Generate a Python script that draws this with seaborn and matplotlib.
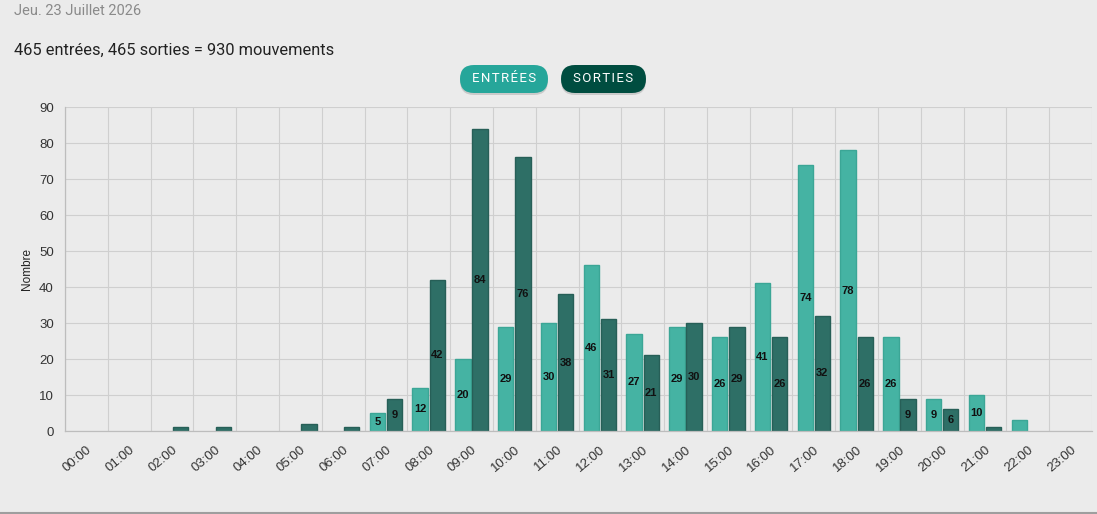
import pandas as pd
import matplotlib
matplotlib.use('Agg')
import matplotlib.pyplot as plt
import seaborn as sns
from matplotlib.patches import FancyBboxPatch
from matplotlib.transforms import IdentityTransform
from matplotlib.lines import Line2D

# Données : mouvements par heure
heures = ['%02d:00' % h for h in range(24)]
entrees = [0, 0, 0, 0, 0, 0, 0, 5, 12, 20, 29, 30, 46, 27, 29, 26, 41, 74, 78, 26, 9, 10, 3, 0]
sorties = [0, 0, 1, 1, 0, 2, 1, 9, 42, 84, 76, 38, 31, 21, 30, 29, 26, 32, 26, 9, 6, 1, 0, 0]
series = ['Entrées', 'Sorties']
couleurs = ['#45b3a3', '#2e6f66']
bords = ['#3ba696', '#275f57']

df = pd.DataFrame({
    'heure': heures * 2,
    'type': [series[0]] * len(heures) + [series[1]] * len(heures),
    'nombre': entrees + sorties,
})

sns.set_theme(style='white')
plt.rcParams['font.family'] = ['Liberation Sans', 'DejaVu Sans']
fond = '#ebebeb'

fig = plt.figure(figsize=(10.97, 5.14), dpi=100, facecolor=fond)
ax = fig.add_axes([65 / 1097, 83 / 514, 1027 / 1097, 324 / 514])
ax.set_facecolor(fond)

sns.barplot(data=df, x='heure', y='nombre', hue='type', hue_order=series,
            palette=couleurs, saturation=1, width=0.8, gap=0.1, linewidth=1, ax=ax,
            legend=False)

for i, cont in enumerate(ax.containers):
    for p in cont:
        p.set_edgecolor(bords[i])
        if p.get_height() == 0:
            p.set_linewidth(0)
    vals = [int(p.get_height()) for p in cont]
    ax.bar_label(cont, labels=[str(v) if v >= 5 else '' for v in vals],
                 label_type='center', fontsize=8, fontweight='bold', color='#111111')

ax.set_xlim(-0.5, 23.5)
ax.set_ylim(0, 90)
ax.set_yticks(range(0, 91, 10))
ax.set_xticks(range(24))
ax.set_xticklabels(heures, rotation=40, ha='right', rotation_mode='anchor')
ax.set_xticks([x - 0.5 for x in range(25)], minor=True)
ax.tick_params(axis='x', which='major', length=0, pad=9, labelsize=9.5, labelcolor='#333333')
ax.tick_params(axis='x', which='minor', length=8, width=0.8, color='#cccccc')
ax.tick_params(axis='y', length=5, width=0.8, color='#cccccc', labelsize=9.5, labelcolor='#333333', pad=3)
ax.grid(True, which='minor', axis='x', color='#cfcfcf', linewidth=0.8)
ax.grid(True, which='major', axis='y', color='#cfcfcf', linewidth=0.8)
ax.set_axisbelow(True)

for s in ['top', 'right']:
    ax.spines[s].set_visible(False)
for s in ['left', 'bottom']:
    ax.spines[s].set_color('#bdbdbd')
    ax.spines[s].set_linewidth(0.9)

ax.set_xlabel('')
ax.set_ylabel('Nombre', fontsize=8.5, color='#222222', labelpad=4)

# En-tête
fig.text(14 / 1097, 1 - 11 / 514, 'Jeu. 23 Juillet 2026', fontsize=10.5, color='#8a8a8a',
         family=['Roboto', 'DejaVu Sans'], va='center')
fig.text(14 / 1097, 1 - 50 / 514, '465 entrées, 465 sorties = 930 mouvements', fontsize=11.8,
         color='#222222', family=['Roboto', 'DejaVu Sans'], va='center')

# Boutons
boutons = [('ENTRÉES', 460, 548, '#26a69a'), ('SORTIES', 561, 646, '#004d40')]
for txt, x0, x1, c in boutons:
    y0 = 514 - 93
    ombre = FancyBboxPatch((x0, y0 - 2), x1 - x0, 28, boxstyle='round,pad=0,rounding_size=14',
                           transform=IdentityTransform(), fc='#b5b5b5', ec='none', alpha=0.6)
    fig.add_artist(ombre)
    bouton = FancyBboxPatch((x0, y0), x1 - x0, 28, boxstyle='round,pad=0,rounding_size=14',
                            transform=IdentityTransform(), fc=c, ec='none')
    fig.add_artist(bouton)
    fig.text((x0 + x1) / 2 / 1097, (y0 + 14) / 514, '\u200a'.join(txt), color='white',
             fontsize=9.5, family=['Roboto', 'DejaVu Sans'], ha='center', va='center')

fig.add_artist(Line2D([0, 1], [1.5 / 514, 1.5 / 514], color='#9e9e9e', linewidth=1.5))

fig.savefig('out.png', dpi=100, facecolor=fond)
